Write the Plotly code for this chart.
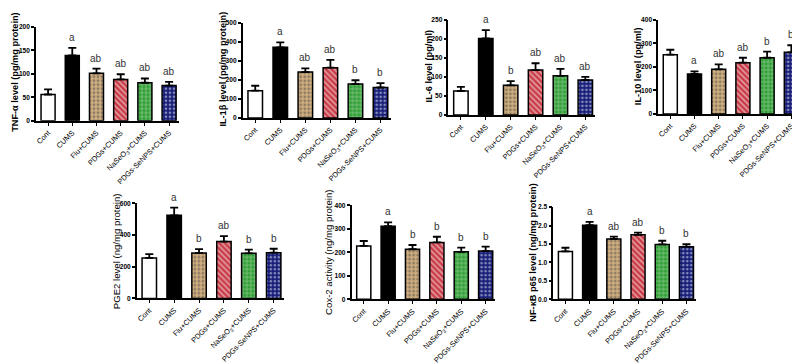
import plotly.graph_objects as go

W, H = 800, 364

categories = ["Cont", "CUMS", "Flu+CUMS", "PDGs+CUMS", "NaSeO<sub>3</sub>+CUMS", "PDGs-SeNPS+CUMS"]

tnf_mean = [56, 139, 101, 88, 81, 75]
tnf_sem = [11, 16, 10, 11, 9, 8]
tnf_letters = ["", "a", "ab", "ab", "ab", "ab"]

il1b_mean = [143, 371, 241, 264, 178, 160]
il1b_sem = [26, 26, 19, 41, 20, 23]
il1b_letters = ["", "a", "ab", "ab", "b", "b"]

il6_mean = [63, 201, 78, 118, 103, 92]
il6_sem = [11, 22, 11, 18, 18, 8]
il6_letters = ["", "a", "b", "ab", "ab", "ab"]

il10_mean = [252, 170, 190, 218, 239, 262]
il10_sem = [21, 11, 21, 21, 26, 30]
il10_letters = ["", "a", "ab", "ab", "b", "b"]

pge2_mean = [255, 524, 286, 358, 284, 288]
pge2_sem = [24, 49, 25, 35, 24, 25]
pge2_letters = ["", "a", "b", "ab", "b", "b"]

cox2_mean = [227, 311, 213, 242, 202, 205]
cox2_sem = [21, 16, 18, 24, 18, 19]
cox2_letters = ["", "a", "b", "b", "b", "b"]

nfkb_mean = [1.30, 2.01, 1.64, 1.75, 1.49, 1.43]
nfkb_sem = [0.10, 0.09, 0.06, 0.06, 0.10, 0.07]
nfkb_letters = ["", "a", "ab", "ab", "b", "b"]

bar_colors = ["#ffffff", "#000000", "#d2b080", "#c83a46", "#2f9e34", "#151c78"]
pattern_shapes = ["", "", ".", "\\", "+", "."]
pattern_fg = ["#000000", "#000000", "#3a2614", "#1a0a0a", "#051805", "#000010"]
pattern_solidity = [0.3, 0.3, 0.4, 0.4, 0.3, 0.35]

# (mean, sem, letters, ymax, dtick, ytitle, bold title, box px [x0,x1,ytop,ybot], title x px, title y px)
panels = [
    (tnf_mean, tnf_sem, tnf_letters, 200, 50, "TNF-α level (pg/mg protein)", True, [27, 170, 15, 111], 6, 61),
    (il1b_mean, il1b_sem, il1b_letters, 500, 100, "IL-1β level (pg/mg protein)", True, [234, 382, 11, 108], 214, 58),
    (il6_mean, il6_sem, il6_letters, 250, 50, "IL-6 level (pg/ml)", True, [440, 587, 8, 105], 420, 55),
    (il10_mean, il10_sem, il10_letters, 400, 100, "IL-10 level (pg/ml)", True, [650, 793, 8, 104], 630, 55),
    (pge2_mean, pge2_sem, pge2_letters, 600, 200, "PGE2 level (ng/mg protein)", False, [128, 275, 195, 292], 107, 244),
    (cox2_mean, cox2_sem, cox2_letters, 400, 100, "Cox-2 activity (ng/mg protein)", False, [343, 487, 197, 293], 320, 245),
    (nfkb_mean, nfkb_sem, nfkb_letters, 2.5, 0.5, "NF-κB p65 level (ng/mg protein)", True, [545, 688, 199, 293], 525, 245),
]

FONT = "Arial, Liberation Sans, Helvetica, sans-serif"

fig = go.Figure()
annotations = []
layout_axes = {}

for i, (mean, sem, letters, ymax, dtick, ytitle, tbold, box, tx, ty) in enumerate(panels):
    k = i + 1
    xa = "x" if k == 1 else f"x{k}"
    ya = "y" if k == 1 else f"y{k}"
    fig.add_trace(go.Bar(
        x=categories, y=mean, xaxis=xa, yaxis=ya, width=0.58,
        marker=dict(
            color=bar_colors,
            line=dict(color="#000000", width=1.5),
            pattern=dict(shape=pattern_shapes, fgcolor=pattern_fg, fillmode="overlay",
                         size=4, solidity=pattern_solidity),
        ),
        error_y=dict(type="data", array=sem, arrayminus=[0] * len(sem), symmetric=False,
                     color="#000000", thickness=1.8, width=4),
        showlegend=False, hoverinfo="skip",
    ))
    x0, x1, yt, yb = box
    xkey = "xaxis" if k == 1 else f"xaxis{k}"
    ykey = "yaxis" if k == 1 else f"yaxis{k}"
    layout_axes[xkey] = dict(
        domain=[x0 / W, x1 / W], anchor=ya, type="category", range=[-0.5, 5.4],
        showline=True, linecolor="#000000", linewidth=1.5,
        ticks="outside", ticklen=3, tickwidth=1.2, tickcolor="#000000",
        tickangle=-45, tickfont=dict(family=FONT, size=7.4, color="#000000"),
        showgrid=False, zeroline=False, fixedrange=True,
    )
    layout_axes[ykey] = dict(
        domain=[1 - yb / H, 1 - yt / H], anchor=xa, range=[0, ymax], dtick=dtick, tick0=0,
        showline=True, linecolor="#000000", linewidth=1.5,
        ticks="outside", ticklen=3, tickwidth=1.5, tickcolor="#000000",
        tickfont=dict(family=FONT, size=6.6, color="#000000", weight="bold"),
        tickformat=".1f" if ymax < 10 else "d",
        showgrid=False, zeroline=False, fixedrange=True,
    )
    annotations.append(dict(
        text=ytitle, textangle=-90, xref="paper", yref="paper",
        x=tx / W, y=1 - ty / H, xanchor="center", yanchor="middle", showarrow=False,
        font=dict(family=FONT, size=9.2 if tbold else 9.6, color="#000000",
                  weight="bold" if tbold else "normal"),
    ))
    for j, lt in enumerate(letters):
        if lt:
            annotations.append(dict(
                text=lt, xref=xa, yref=ya, x=categories[j], y=mean[j] + sem[j],
                xanchor="center", yanchor="bottom", yshift=3, showarrow=False,
                font=dict(family=FONT, size=10, color="#333333"),
            ))

fig.update_layout(
    width=W, height=H, margin=dict(l=0, r=0, t=0, b=0),
    paper_bgcolor="#ffffff", plot_bgcolor="#ffffff",
    annotations=annotations, bargap=0.4,
    **layout_axes,
)

fig.write_html("out.html")
